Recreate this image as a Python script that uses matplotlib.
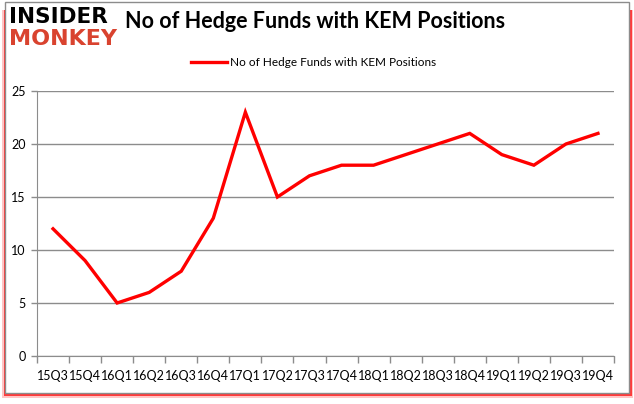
import matplotlib.pyplot as plt
from matplotlib.patches import Rectangle

quarters = ['15Q3', '15Q4', '16Q1', '16Q2', '16Q3', '16Q4', '17Q1', '17Q2', '17Q3',
            '17Q4', '18Q1', '18Q2', '18Q3', '18Q4', '19Q1', '19Q2', '19Q3', '19Q4']
funds = [12, 9, 5, 6, 8, 13, 23, 15, 17, 18, 18, 19, 20, 21, 19, 18, 20, 21]
yticks = [0, 5, 10, 15, 20, 25]

W, H = 634, 404
fig = plt.figure(figsize=(W / 100, H / 100), dpi=100)

# frame with red shadow on the bottom/right
fig.patches.append(Rectangle((2 / W, 6 / H), 631 / W, 388 / H, transform=fig.transFigure,
                             facecolor='#ff4040', edgecolor='none', alpha=0.3, zorder=0))
fig.patches.append(Rectangle((4 / W, 8 / H), 628 / W, 386 / H, transform=fig.transFigure,
                             facecolor='#ff0000', edgecolor='none', alpha=0.7, zorder=0))
fig.patches.append(Rectangle((5 / W, 11 / H), 624 / W, 391 / H, transform=fig.transFigure,
                             facecolor='white', edgecolor='#8c8c8c', linewidth=1, zorder=1))

ax = fig.add_axes([37 / W, 48 / H, 577 / W, 265 / H])
ax.set_zorder(2)
ax.patch.set_alpha(0)

x = list(range(len(quarters)))
ax.plot(x, funds, color='#ff0000', linewidth=2.4, solid_joinstyle='miter',
        label='No of Hedge Funds with KEM Positions')

ax.set_xlim(-0.5, len(quarters) - 0.5)
ax.set_ylim(0, 25)
ax.set_yticks(yticks)
ax.yaxis.grid(True, color='#8c8c8c', linewidth=1)
ax.set_axisbelow(True)

ax.set_xticks([i - 0.5 for i in range(len(quarters) + 1)])
ax.set_xticklabels([])
ax.set_xticks(x, minor=True)
ax.set_xticklabels(quarters, minor=True)
ax.tick_params(axis='x', which='major', length=5, color='#8c8c8c', width=1)
ax.tick_params(axis='x', which='minor', length=0, pad=10, labelsize=9)
ax.tick_params(axis='y', length=4, color='#8c8c8c', width=1, labelsize=9, pad=4)
for lab in ax.get_xticklabels(minor=True) + ax.get_yticklabels():
    lab.set_family('Lato')

for s in ['top', 'right']:
    ax.spines[s].set_visible(False)
for s in ['left', 'bottom']:
    ax.spines[s].set_color('#8c8c8c')

ax.legend(loc='lower center', bbox_to_anchor=(0.48, 1.045), frameon=False,
          prop={'family': 'Lato', 'size': 8.5}, handlelength=3.0, handletextpad=0.3)

fig.text(125 / W, 1 - 22 / H, 'No of Hedge Funds with KEM Positions', fontsize=15.5,
         family='Lato', fontweight='bold', va='center', ha='left')
fig.text(9 / W, 1 - 17 / H, 'INSIDER', fontsize=15.5, fontweight='heavy', color='black',
         va='center', ha='left', family='DejaVu Sans')
fig.text(9 / W, 1 - 39 / H, 'MONKEY', fontsize=16, fontweight='heavy', color='#d9432f',
         va='center', ha='left', family='DejaVu Sans')

fig.savefig('out.png', dpi=100)
